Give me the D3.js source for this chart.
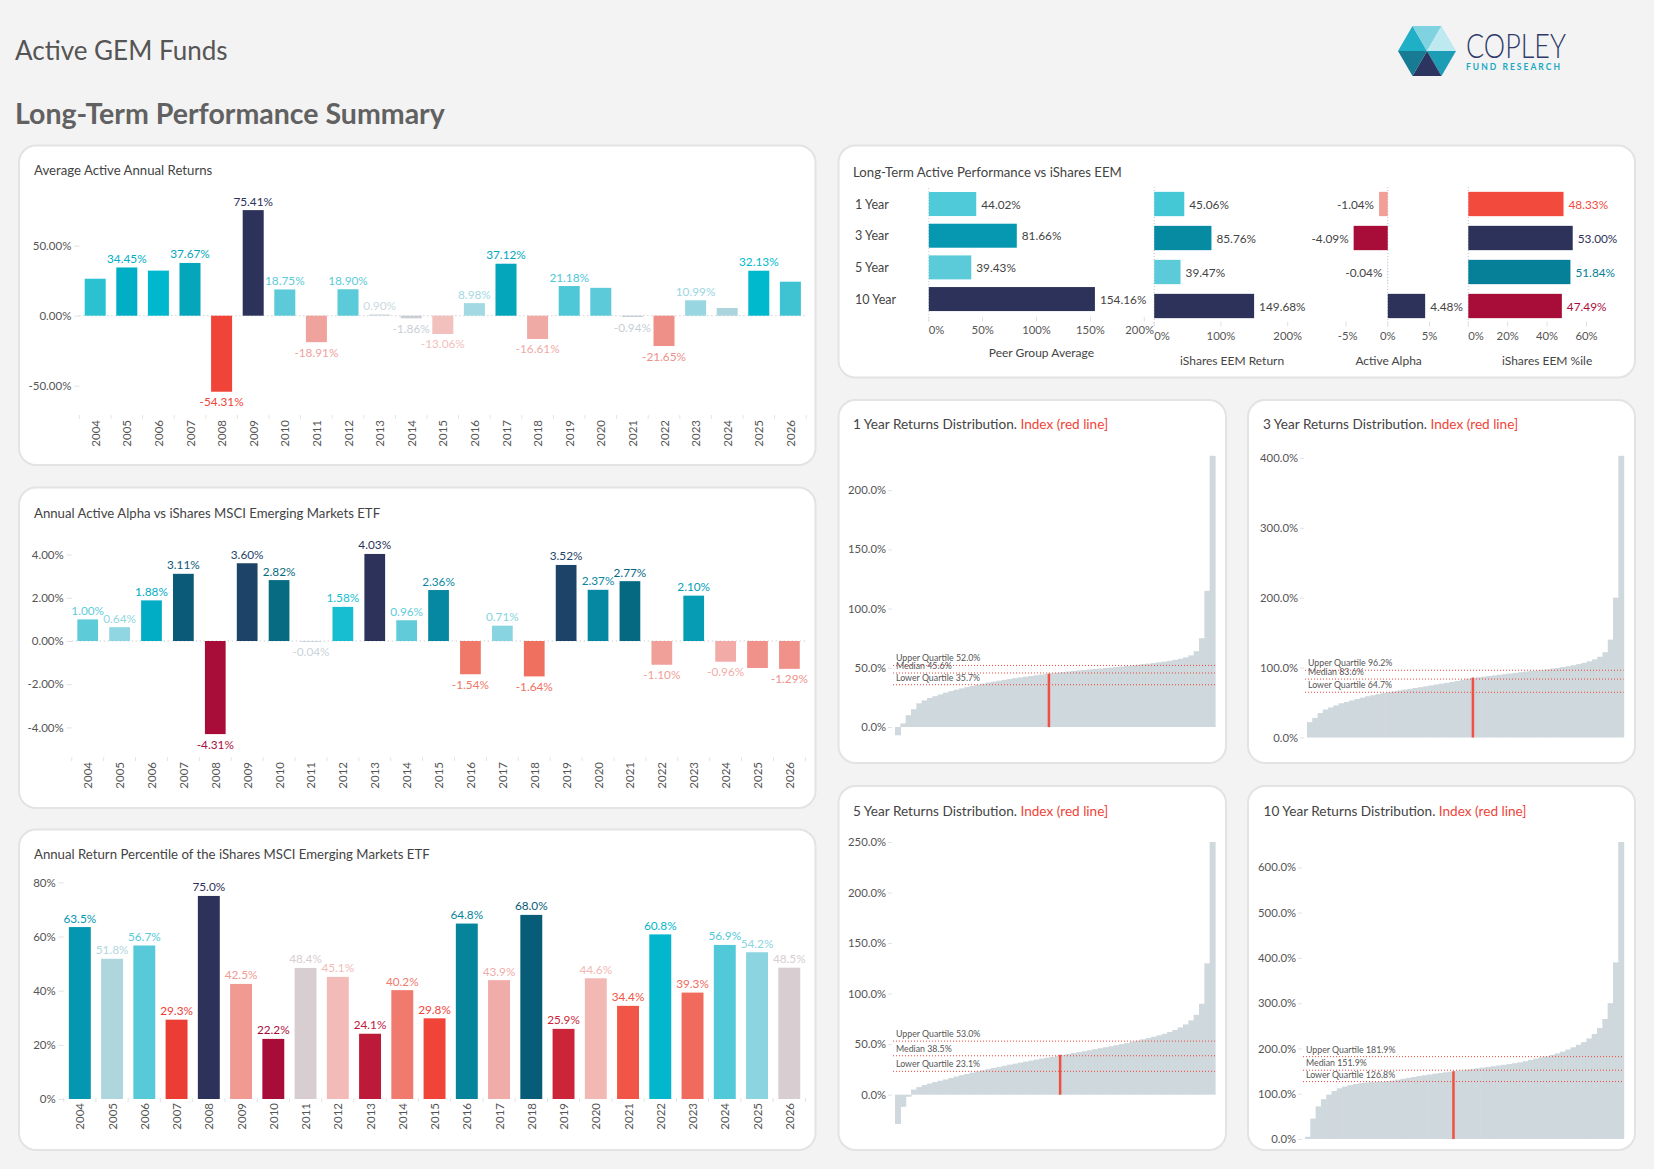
<!DOCTYPE html>
<html>
<head>
<meta charset="utf-8">
<script src="https://cdn.jsdelivr.net/npm/d3@7"></script>
<style>
  body { margin: 0; background: #f3f3f3; }
  svg { display: block; font-family: Lato, "Open Sans", sans-serif; }
</style>
</head>
<body>
<svg id="chart" width="1654" height="1169"></svg>
<script>
// ===== DATA =====
const years = ["2004","2005","2006","2007","2008","2009","2010","2011","2012","2013","2014","2015",
               "2016","2017","2018","2019","2020","2021","2022","2023","2024","2025","2026"];

// Average active annual returns (%)
const avgActive = [26.4, 34.45, 32.2, 37.67, -54.31, 75.41, 18.75, -18.91, 18.90, 0.90, -1.86, -13.06,
                   8.98, 37.12, -16.61, 21.18, 19.9, -0.94, -21.65, 10.99, 5.5, 32.13, 24.3];
const avgActiveLabelled = [0,1,0,1,1,1,1,1,1,1,1,1,1,1,1,1,0,1,1,1,0,1,0];

// Annual active alpha vs iShares EEM (%)
const alpha = [1.00, 0.64, 1.88, 3.11, -4.31, 3.60, 2.82, -0.04, 1.58, 4.03, 0.96, 2.36,
               -1.54, 0.71, -1.64, 3.52, 2.37, 2.77, -1.10, 2.10, -0.96, -1.25, -1.29];
const alphaLabelled = [1,1,1,1,1,1,1,1,1,1,1,1,1,1,1,1,1,1,1,1,1,0,1];

// Annual return percentile of the ETF (%)
const percentile = [63.5, 51.8, 56.7, 29.3, 75.0, 42.5, 22.2, 48.4, 45.1, 24.1, 40.2, 29.8,
                    64.8, 43.9, 68.0, 25.9, 44.6, 34.4, 60.8, 39.3, 56.9, 54.2, 48.5];

// Long-term table
const periods = ["1 Year", "3 Year", "5 Year", "10 Year"];
const peerAvg = [44.02, 81.66, 39.43, 154.16];
const eemReturn = [45.06, 85.76, 39.47, 149.68];
const activeAlpha = [-1.04, -4.09, -0.04, 4.48];
const eemPercentile = [48.33, 53.00, 51.84, 47.49];

// Sorted fund returns (%) per period, quartiles, index rank (% of funds below)
const dist1Y = [-7, 3, 10, 15, 20, 22.5, 24.5, 26, 27.5, 29, 30.3, 31.5, 32.6, 33.7, 34.7, 35.7, 36.6, 37.5, 38.3, 39.1,
                39.8, 40.5, 41.2, 41.9, 42.5, 43.1, 43.7, 44.3, 44.9, 45.4, 45.9, 46.4, 46.9, 47.4, 47.8, 48.2, 48.6, 49, 49.4, 49.8,
                50.2, 50.6, 51, 51.5, 52, 52.5, 53, 53.5, 54, 54.6, 55.2, 55.9, 56.7, 57.6, 58.8, 60.5, 64, 75, 115, 229];
const dist3Y = [22, 28, 35, 40, 43, 46, 49, 51, 53, 55, 57, 59, 60.5, 62, 63.5, 64.7, 66, 67.2, 68.4, 69.6,
                70.8, 72, 73.3, 74.5, 75.8, 77, 78.2, 79.5, 80.8, 82.5, 84, 85.2, 86.2, 87.1, 88, 88.9, 89.8, 90.7, 91.6, 92.5,
                93.4, 94.3, 95.1, 95.8, 96.6, 97.5, 98.5, 99.6, 100.8, 102, 103.4, 105, 106.8, 109, 111.7, 115.5, 122, 140, 200, 403];
const dist5Y = [-29, -12, -2, 5, 7.5, 9.5, 11, 12.5, 13.8, 15, 16.5, 18, 19.3, 20.5, 21.8, 23.1, 24.2, 25.3, 26.4, 27.5,
                28.6, 29.7, 30.7, 31.7, 32.7, 33.7, 34.7, 35.7, 36.6, 37.5, 38.5, 39.4, 40.3, 41.2, 42.1, 43, 44, 45, 46, 47,
                48, 49, 50, 51, 52.5, 53.5, 54.8, 56, 57.3, 58.7, 60.2, 62, 64, 66.5, 69.5, 73.5, 79, 90, 130, 250];
const dist10Y = [5, 45, 72, 88, 98, 106, 112, 116, 119, 121.5, 123.5, 124.8, 125.6, 126.2, 126.6, 127.4, 129, 131, 133, 135,
                 137, 139, 140.8, 142.5, 144.2, 145.8, 147.4, 148.9, 150.4, 151.8, 153.3, 154.8, 156.3, 157.8, 159.3, 160.8, 162.4, 164, 165.7, 167.5,
                 169.5, 171.8, 174.5, 177.5, 180.5, 182.5, 185.5, 189, 193, 197.5, 202.5, 208, 214, 222, 232, 245, 265, 300, 390, 656];
const upperQuartile = [52.0, 96.2, 53.0, 181.9];
const medianReturn = [45.6, 83.6, 38.5, 151.9];
const lowerQuartile = [35.7, 64.7, 23.1, 126.8];
const indexRankPct = [48.1, 52.4, 51.6, 46.6];

// tick labels
const ticksAvg = [-50, 0, 50];
const ticksAlpha = [-4, -2, 0, 2, 4];
const ticksPct = [0, 20, 40, 60, 80];
const ticksDist = [[0, 50, 100, 150, 200], [0, 100, 200, 300, 400], [0, 50, 100, 150, 200, 250], [0, 100, 200, 300, 400, 500, 600]];

// ===== COLOURS =====
const colAvg = ['#2ac1d1','#00aec6','#00b8cd','#03a6bb','#f04438','#2c3259','#5ccad8','#f0a29d','#5ccbd9','#cbd8de','#c9ced4','#f2c0bd',
                '#a2d9e3','#03a6bb','#f0aaa6','#4ec7d6','#5ccad8','#c9ced4','#ef9088','#98d6e2','#acd4dc','#00b9cd','#3fc3d3'];
const colAlpha = ['#5ecbd9','#8fd6e2','#00adc5','#0b5a77','#a80d3a','#1d4468','#076b81','#c9d5db','#17bdd0','#2c3259','#62cbd9','#0788a2',
                  '#f07868','#88d4e0','#f07060','#1d4468','#0788a2','#066982','#f0a098','#069db4','#f2aba7','#f0928a','#f0928a'];
const colPct = ['#0597b1','#b0d6dd','#58c9d8','#ec3d34','#2c3259','#f09a91','#a80d3a','#d8cdd1','#f2bbb8','#bd1a3a','#f07a6e','#f04438',
                '#06849c','#f0aca8','#075c78','#cc2438','#f2b8b4','#f05545','#02b6cc','#f06a5e','#52c9d9','#8cd4e0','#d8cdd1'];
const colPeer = ['#4ecad8','#0598b0','#5ccbd9','#2c3259'];
const colEem = ['#45c8d6','#078ba3','#5ccbd9','#2c3259'];
const colActive = ['#f29f98','#a80d3a','#c9d5db','#2c3259'];
const colEemPct = ['#f24a3c','#2c3259','#067f99','#a80d3a'];

const svg = d3.select("#chart");
const TXT = "#444";

// ===== PAGE HEADER =====
svg.append("rect").attr("width", 1654).attr("height", 1169).attr("fill", "#f3f3f3");
svg.append("text").attr("x", 15).attr("y", 60).attr("font-size", 26).attr("fill", "#555")
    .text("Active GEM Funds");
svg.append("text").attr("x", 15).attr("y", 124).attr("font-size", 28.5).attr("font-weight", 700).attr("fill", "#616161")
    .text("Long-Term Performance Summary");

// logo
const logo = svg.append("g").attr("transform", "translate(1427,51)");
const hexR = 29;
const hex = d3.range(6).map(i => [hexR * Math.cos(Math.PI / 3 * i), hexR * Math.sin(Math.PI / 3 * i)]);
const logoCols = ['#1c9cb5', '#2b3560', '#177b93', '#1fb0c8', '#7fd2e0', '#bfe9f0'];
hex.forEach((p, i) => {
    const q = hex[(i + 1) % 6];
    logo.append("path").attr("d", `M0,0L${p[0]},${p[1]}L${q[0]},${q[1]}Z`).attr("fill", logoCols[i]);
});
svg.append("text").attr("x", 1466).attr("y", 58).attr("font-size", 33).attr("font-weight", 300)
    .attr("fill", "#2e3a6a").attr("textLength", 100).attr("lengthAdjust", "spacingAndGlyphs").text("COPLEY");
svg.append("text").attr("x", 1466).attr("y", 70).attr("font-size", 8.5).attr("font-weight", 700)
    .attr("fill", "#17a8c2").attr("textLength", 94).attr("lengthAdjust", "spacing").text("FUND RESEARCH");

// ===== PANELS =====
function drawPanel(x, y, w, h) {
    svg.append("rect").attr("x", x).attr("y", y).attr("width", w).attr("height", h)
        .attr("rx", 17).attr("fill", "#fff").attr("stroke", "#e3e3e3").attr("stroke-width", 2);
}
function panelTitle(x, y, parts, size) {
    const t = svg.append("text").attr("x", x).attr("y", y).attr("font-size", size || 13.2).attr("dominant-baseline", "central");
    parts.forEach(([s, c]) => t.append("tspan").attr("fill", c).text(s));
}

drawPanel(19, 145.5, 796.5, 319.5);
drawPanel(19, 487.5, 796.5, 320.5);
drawPanel(19, 829.5, 796.5, 320.5);
drawPanel(838.5, 145.5, 796.5, 232);
drawPanel(838.5, 400, 387.5, 363);
drawPanel(1248, 400, 387, 363);
drawPanel(838.5, 786, 387.5, 364);
drawPanel(1248, 786, 387, 364);

panelTitle(34, 170, [["Average Active Annual Returns", TXT]]);
panelTitle(34, 513, [["Annual Active Alpha vs iShares MSCI Emerging Markets ETF", TXT]]);
panelTitle(34, 854, [["Annual Return Percentile of the iShares MSCI Emerging Markets ETF", TXT]]);
panelTitle(853, 171.5, [["Long-Term Active Performance vs iShares EEM", TXT]]);
const distTitles = ["1 Year", "3 Year", "5 Year", "10 Year"];
[[853, 424.3], [1263, 424.3], [853, 810.7], [1263.5, 810.7]].forEach((p, i) =>
    panelTitle(p[0], p[1], [[distTitles[i] + " Returns Distribution. ", TXT], ["Index (red line]", "#f04438"]], 13.6));

// ===== COLUMN CHARTS =====
function columnChart(o) {
    const g = svg.append("g");
    const x = d3.scaleBand().domain(years).range(o.xRange).paddingInner(o.pad).paddingOuter(o.pad / 2);
    const y = d3.scaleLinear().domain(o.yDomain).range(o.yRange);
    const rows = o.values.map((v, i) => ({ year: years[i], v: v, c: o.colors[i], show: o.labelled[i] }));

    const ax = g.append("g").attr("transform", `translate(${o.xRange[0]},0)`)
        .call(d3.axisLeft(y).tickValues(o.ticks).tickFormat(o.tickFmt).tickSize(5).tickPadding(3));
    ax.attr("font-family", null).attr("font-size", 11.5);
    ax.select(".domain").remove();
    ax.selectAll(".tick line").attr("stroke", "#e2e2e2");
    ax.selectAll(".tick text").attr("fill", "#555");

    if (o.zeroLine) {
        g.append("line").attr("x1", o.xRange[0]).attr("x2", o.xRange[1])
            .attr("y1", y(0)).attr("y2", y(0))
            .attr("stroke", "#bbb").attr("stroke-dasharray", "1,3");
    }

    g.selectAll("rect.bar").data(rows).join("rect").attr("class", "bar")
        .attr("x", d => x(d.year))
        .attr("width", x.bandwidth())
        .attr("y", d => y(Math.max(0, d.v)))
        .attr("height", d => Math.abs(y(d.v) - y(0)))
        .attr("fill", d => d.c);

    g.selectAll("text.val").data(rows.filter(d => d.show)).join("text").attr("class", "val")
        .attr("x", d => x(d.year) + x.bandwidth() / 2)
        .attr("y", d => d.v >= 0 ? y(d.v) - 9 : y(d.v) + 10)
        .attr("text-anchor", "middle").attr("dominant-baseline", "central")
        .attr("font-size", 11.8)
        .attr("fill", d => d.c)
        .text(d => d.v.toFixed(o.dec) + "%");

    // year labels
    g.selectAll("text.yr").data(years).join("text").attr("class", "yr")
        .attr("transform", d => `translate(${x(d) + x.bandwidth() / 2},${o.yearY}) rotate(-90)`)
        .attr("text-anchor", "end").attr("dominant-baseline", "central")
        .attr("font-size", 11.5).attr("fill", "#555").text(d => d);

    // faint category separators
    const seps = years.map(d => x(d) - x.step() * o.pad / 2).concat([o.xRange[1]]);
    g.selectAll("line.sep").data(seps).join("line").attr("class", "sep")
        .attr("x1", d => d).attr("x2", d => d)
        .attr("y1", o.yearY - 5).attr("y2", o.yearY - 1)
        .attr("stroke", "#e4e4e4");
}

columnChart({
    values: avgActive, labelled: avgActiveLabelled, colors: colAvg, dec: 2,
    xRange: [79.4, 806.2], pad: 0.335,
    yDomain: [-60, 80], yRange: [399.7, 203.7],
    ticks: ticksAvg, tickFmt: d => d.toFixed(2) + "%",
    zeroLine: true, yearY: 420
});
columnChart({
    values: alpha, labelled: alphaLabelled, colors: colAlpha, dec: 2,
    xRange: [71.75, 805.35], pad: 0.35,
    yDomain: [-5, 4.5], yRange: [749, 543.8],
    ticks: ticksAlpha, tickFmt: d => d.toFixed(2) + "%",
    zeroLine: true, yearY: 762
});
columnChart({
    values: percentile, labelled: percentile.map(() => 1), colors: colPct, dec: 1,
    xRange: [63.7, 805.4], pad: 0.32,
    yDomain: [0, 80], yRange: [1099, 882.4],
    ticks: ticksPct, tickFmt: d => d + "%",
    zeroLine: false, yearY: 1103
});

// ===== LONG-TERM HORIZONTAL BARS =====
function hbar(o) {
    const g = svg.append("g");
    const x = d3.scaleLinear().domain(o.xDomain).range(o.xRange);
    const y = d3.scaleBand().domain(periods).range(o.yRange).paddingInner(o.pad).paddingOuter(o.pad / 2);

    g.append("line").attr("x1", x(0)).attr("x2", x(0))
        .attr("y1", o.yRange[0]).attr("y2", o.tickY + 5)
        .attr("stroke", "#c4c4c4").attr("stroke-dasharray", "1,2");

    o.ticks.forEach(t => {
        g.append("line").attr("x1", x(t)).attr("x2", x(t)).attr("y1", o.tickY).attr("y2", o.tickY + 5)
            .attr("stroke", "#e2e2e2");
        const lab = g.append("text").attr("y", o.labelY).attr("font-size", 11.3).attr("fill", "#555")
            .attr("text-anchor", "middle").attr("dominant-baseline", "central").text(t + "%");
        const w = lab.node().getComputedTextLength();
        const cx = Math.min(Math.max(x(t), o.xRange[0] + w / 2), o.xRange[1] - w / 2);
        lab.attr("x", cx);
    });

    g.selectAll("rect").data(o.values).join("rect")
        .attr("x", d => x(Math.min(0, d)))
        .attr("width", d => Math.abs(x(d) - x(0)))
        .attr("y", (d, i) => y(periods[i]))
        .attr("height", y.bandwidth())
        .attr("fill", (d, i) => o.colors[i]);

    g.selectAll("text.val").data(o.values).join("text").attr("class", "val")
        .attr("x", d => d >= 0 ? x(d) + 5 : x(d) - 5)
        .attr("y", (d, i) => y(periods[i]) + y.bandwidth() / 2)
        .attr("text-anchor", d => d >= 0 ? "start" : "end")
        .attr("dominant-baseline", "central").attr("font-size", 11.8)
        .attr("fill", (d, i) => o.labelColors ? o.labelColors[i] : TXT)
        .text(d => d.toFixed(2) + "%");

    g.append("text").attr("x", (o.xRange[0] + o.xRange[1]) / 2).attr("y", o.titleY)
        .attr("text-anchor", "middle").attr("dominant-baseline", "central")
        .attr("font-size", 12).attr("fill", TXT).text(o.title);
    return y;
}

const rowY = hbar({
    values: peerAvg, colors: colPeer, xDomain: [0, 209], xRange: [928.8, 1154],
    yRange: [188.2, 314.9], pad: 0.242, ticks: [0, 50, 100, 150, 200],
    tickY: 316.7, labelY: 329, titleY: 352.3, title: "Peer Group Average"
});
hbar({
    values: eemReturn, colors: colEem, xDomain: [0, 233.4], xRange: [1154.2, 1310],
    yRange: [187, 323], pad: 0.285, ticks: [0, 100, 200],
    tickY: 321.7, labelY: 335.7, titleY: 360, title: "iShares EEM Return"
});
hbar({
    values: activeAlpha, colors: colActive, xDomain: [-6, 6.2], xRange: [1337.7, 1439.5],
    yRange: [187, 323], pad: 0.285, ticks: [-5, 0, 5],
    tickY: 321.7, labelY: 335.7, titleY: 360, title: "Active Alpha"
});
hbar({
    values: eemPercentile, colors: colEemPct, labelColors: colEemPct, xDomain: [0, 80], xRange: [1468.3, 1625.9],
    yRange: [187, 323], pad: 0.285, ticks: [0, 20, 40, 60],
    tickY: 321.7, labelY: 335.7, titleY: 360, title: "iShares EEM %ile"
});
svg.selectAll("text.row").data(periods).join("text").attr("class", "row")
    .attr("x", 855).attr("y", d => rowY(d) + rowY.bandwidth() / 2)
    .attr("dominant-baseline", "central").attr("font-size", 12.5).attr("fill", TXT).text(d => d);

// ===== DISTRIBUTIONS =====
function distChart(o) {
    const g = svg.append("g");
    const vals = o.values;
    const x = d3.scaleBand().domain(d3.range(vals.length)).range([o.x0, o.x1]).padding(0);
    const y = d3.scaleLinear().domain([Math.min(0, d3.min(vals)), d3.max(vals)]).range([o.yBottom, o.yTop]);
    const xr = d3.scaleLinear().domain([0, 100]).range([o.x0, o.x1]);

    const ax = g.append("g").attr("transform", `translate(${o.x0 - 3},0)`)
        .call(d3.axisLeft(y).tickValues(o.ticks).tickFormat(d => d.toFixed(1) + "%").tickSize(4).tickPadding(2));
    ax.attr("font-family", null).attr("font-size", 11.3);
    ax.select(".domain").remove();
    ax.selectAll(".tick line").attr("stroke", "#e2e2e2");
    ax.selectAll(".tick text").attr("fill", "#555");

    g.selectAll("rect").data(vals).join("rect")
        .attr("x", (d, i) => x(i))
        .attr("width", x.bandwidth() + 0.6)
        .attr("y", d => y(Math.max(0, d)))
        .attr("height", d => Math.abs(y(d) - y(0)))
        .attr("fill", "#cfd8dd");

    const qs = [["Upper Quartile ", o.upper], ["Median ", o.median], ["Lower Quartile ", o.lower]];
    qs.forEach(([name, v]) => {
        g.append("line").attr("x1", o.x0 - 2).attr("x2", o.x1).attr("y1", y(v)).attr("y2", y(v))
            .attr("stroke", "#f04438").attr("stroke-dasharray", "1,2");
    });
    g.append("line").attr("x1", xr(o.rank)).attr("x2", xr(o.rank))
        .attr("y1", y(0)).attr("y2", y(o.index))
        .attr("stroke", "#f0503f").attr("stroke-width", 2.5);
    qs.forEach(([name, v]) => {
        g.append("text").attr("x", o.x0 + 1).attr("y", y(v) - 7.5)
            .attr("dominant-baseline", "central").attr("font-size", 8.8).attr("fill", "#555")
            .text(name + v.toFixed(1) + "%");
    });
}

const distData = [dist1Y, dist3Y, dist5Y, dist10Y];
const distBox = [
    { x0: 895, x1: 1215, yTop: 455.8, yBottom: 735.3 },
    { x0: 1307, x1: 1623.6, yTop: 455.8, yBottom: 737.5 },
    { x0: 895, x1: 1215, yTop: 842, yBottom: 1124 },
    { x0: 1305, x1: 1623.6, yTop: 842, yBottom: 1139 }
];
distData.forEach((vals, i) => distChart(Object.assign({
    values: vals, ticks: ticksDist[i],
    upper: upperQuartile[i], median: medianReturn[i], lower: lowerQuartile[i],
    rank: indexRankPct[i], index: eemReturn[i]
}, distBox[i])));
</script>
</body>
</html>
